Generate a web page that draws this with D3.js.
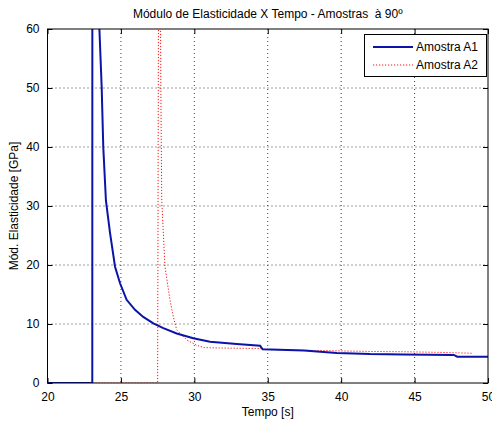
<!DOCTYPE html>
<html><head><meta charset="utf-8">
<script src="https://cdn.jsdelivr.net/npm/d3@7"></script>
<style>body{margin:0;background:#fff}svg{display:block}text{font-family:"Liberation Sans",Arial,sans-serif;font-size:12px;fill:#000}</style>
</head><body><svg id="c" width="492" height="421"></svg>
<script>
const xTicks = [20, 25, 30, 35, 40, 45, 50];
const yTicks = [0, 10, 20, 30, 40, 50, 60];
const seriesNames = ["Amostra A1", "Amostra A2"];
const a1T = [20, 23.05, 23.06, 23.40, 23.53, 23.69, 23.80, 23.98, 24.26, 24.60, 24.94, 25.39, 25.96, 26.52, 27.21, 27.89, 28.80, 29.93, 31.07, 32.89, 34.48, 34.65, 37.46, 39.70, 41.97, 44.20, 47.67, 47.90, 50];
const a1V = [0, 0, 150, 80, 60.3, 50.1, 39.9, 30.9, 25.4, 19.7, 16.9, 14.1, 12.4, 11.2, 10.1, 9.3, 8.4, 7.6, 7.0, 6.6, 6.3, 5.7, 5.5, 5.1, 4.9, 4.85, 4.75, 4.45, 4.45];
const a2T = [20, 27.50, 27.60, 27.72, 27.78, 28.00, 28.34, 28.57, 28.80, 29.48, 30.16, 30.65, 32.5, 34.6, 34.75, 37.4, 39.7, 42.0, 44.2, 46.5, 48.8, 49.0];
const a2V = [0, 0, 110, 50, 31.0, 19.7, 14.1, 11.2, 9.0, 7.3, 6.4, 6.0, 5.9, 5.85, 5.7, 5.55, 5.45, 5.35, 5.3, 5.2, 5.05, 5.0];

const svg = d3.select("#c");
const L = 47.5, R = 488, T = 29, B = 383;
const x = d3.scaleLinear().domain([20, 50]).range([L, R]);
const y = d3.scaleLinear().domain([0, 60]).range([B, T]);

svg.append("defs").append("clipPath").attr("id","clip").append("rect")
  .attr("x", L).attr("y", T).attr("width", R - L).attr("height", B - T);

// grid
const g = svg.append("g");
g.selectAll(".gx").data(xTicks.slice(1, -1)).enter().append("line")
  .attr("x1", d => x(d)).attr("x2", d => x(d)).attr("y1", T).attr("y2", B)
  .attr("stroke", "#000").attr("stroke-width", 1).attr("stroke-dasharray", "1,3").attr("opacity", 0.75);
g.selectAll(".gy").data(yTicks.slice(1, -1)).enter().append("line")
  .attr("y1", d => y(d)).attr("y2", d => y(d)).attr("x1", L).attr("x2", R)
  .attr("stroke", "#000").attr("stroke-width", 1).attr("stroke-dasharray", "1,3").attr("opacity", 0.75);

// axes
const tl = 5;
svg.append("g").attr("transform", `translate(0,${B})`)
  .call(d3.axisBottom(x).tickValues(xTicks).tickSize(-tl).tickPadding(9))
  .call(s => s.select(".domain").remove());
svg.append("g").attr("transform", `translate(0,${T})`)
  .call(d3.axisTop(x).tickValues(xTicks).tickSize(-tl).tickFormat(""))
  .call(s => s.select(".domain").remove());
svg.append("g").attr("transform", `translate(${L},0)`)
  .call(d3.axisLeft(y).tickValues(yTicks).tickSize(-tl).tickPadding(8))
  .call(s => s.select(".domain").remove());
svg.append("g").attr("transform", `translate(${R},0)`)
  .call(d3.axisRight(y).tickValues(yTicks).tickSize(-tl).tickFormat(""))
  .call(s => s.select(".domain").remove());
svg.selectAll(".tick text").attr("font-size", 12).attr("font-family", "Liberation Sans, Arial, sans-serif").attr("fill", "#000");
svg.selectAll(".tick line").attr("stroke", "#000");

// lines
const line = d3.line().x(d => x(d[0])).y(d => y(d[1]));
const pg = svg.append("g").attr("clip-path", "url(#clip)");
pg.append("path").datum(a2T.map((t, i) => [t, a2V[i]])).attr("d", line)
  .attr("fill", "none").attr("stroke", "#ff1010").attr("stroke-width", 1).attr("stroke-dasharray", "1.2,1.8");
pg.append("path").datum(a1T.map((t, i) => [t, a1V[i]])).attr("d", line)
  .attr("fill", "none").attr("stroke", "#0a14a8").attr("stroke-width", 2);

// frame
svg.append("rect").attr("x", L).attr("y", T).attr("width", R - L).attr("height", B - T)
  .attr("fill", "none").attr("stroke", "#000").attr("stroke-width", 1);

// titles
svg.append("text").attr("x", (L + R) / 2).attr("y", 18).attr("text-anchor", "middle")
  .text("Módulo de Elasticidade X Tempo - Amostras  à 90º").style("white-space", "pre");
svg.append("text").attr("x", (L + R) / 2).attr("y", 416).attr("text-anchor", "middle").text("Tempo [s]");
svg.append("text").attr("transform", `translate(18,${(T + B) / 2}) rotate(-90)`).attr("text-anchor", "middle")
  .text("Mód. Elasticidade [GPa]");

// legend
const lg = svg.append("g");
lg.append("rect").attr("x", 364.5).attr("y", 34.5).attr("width", 122).attr("height", 42)
  .attr("fill", "#fff").attr("stroke", "#000");
const styles = [{c: "#0a14a8", w: 2, d: null}, {c: "#ff1010", w: 1, d: "1.2,1.8"}];
seriesNames.forEach((n, i) => {
  const yy = 47 + i * 18;
  lg.append("line").attr("x1", 373).attr("x2", 413).attr("y1", yy).attr("y2", yy)
    .attr("stroke", styles[i].c).attr("stroke-width", styles[i].w).attr("stroke-dasharray", styles[i].d);
  lg.append("text").attr("x", 416).attr("y", yy + 4).text(n);
});
</script></body></html>
